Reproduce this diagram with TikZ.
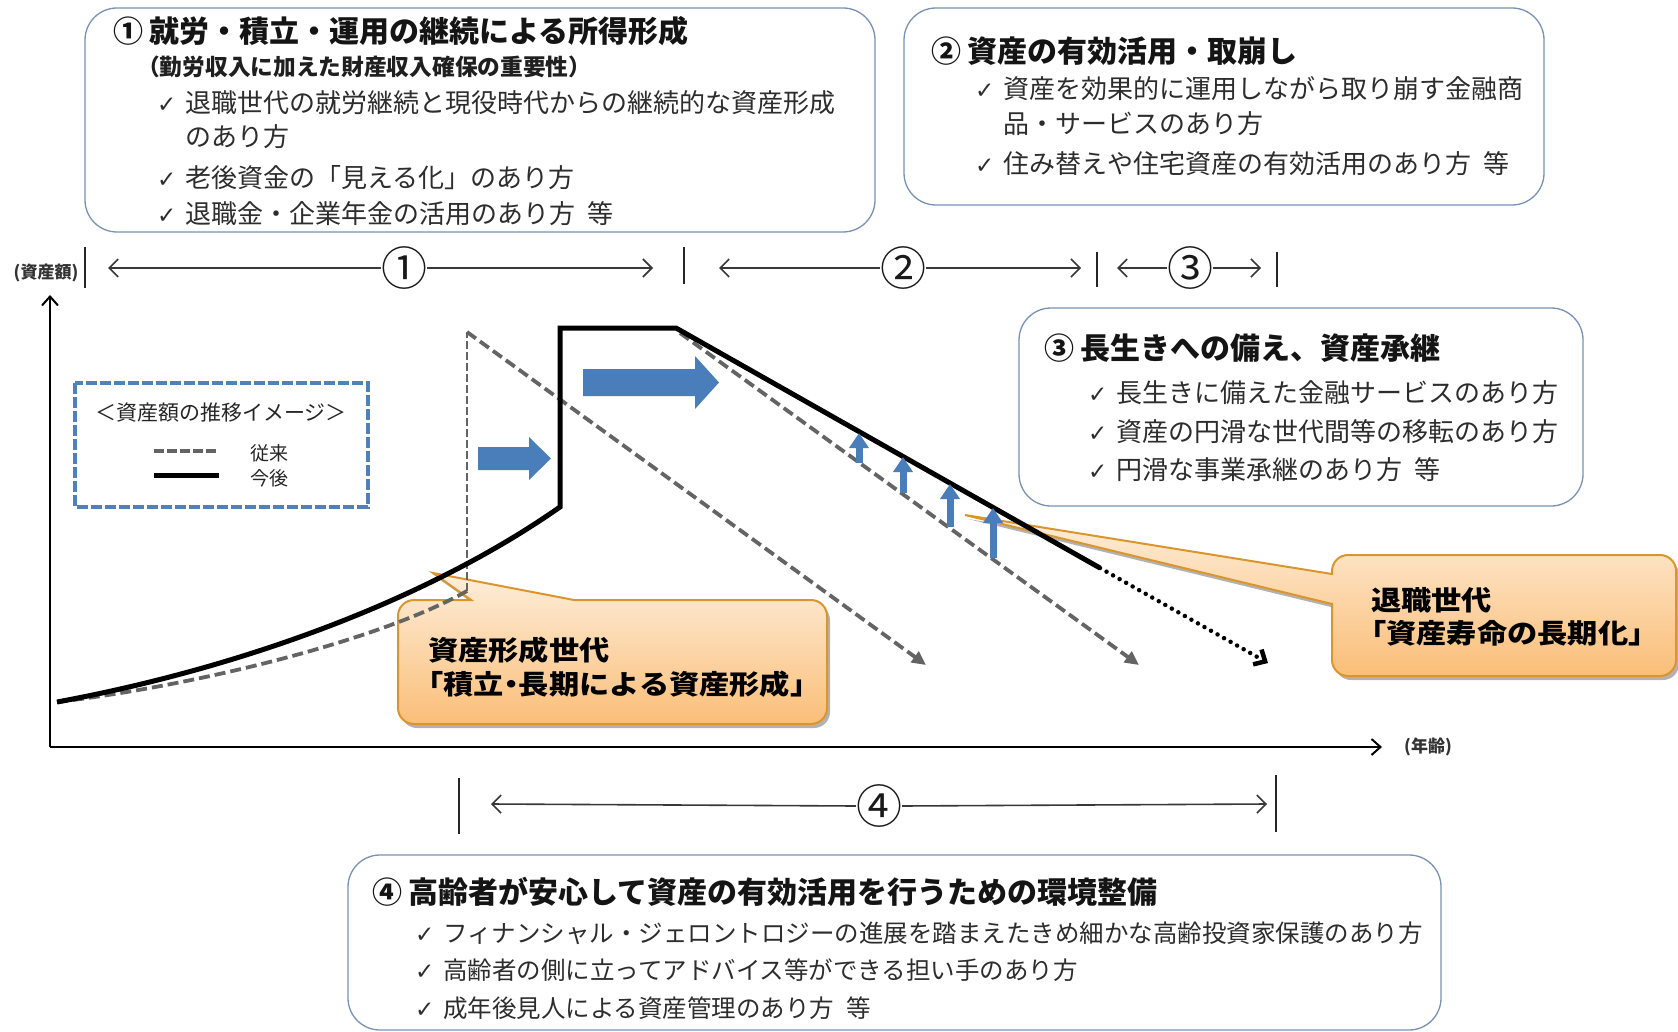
\documentclass[tikz,border=0pt]{standalone}
\usepackage{fontspec}
\newfontfamily\jp{Noto Sans CJK JP}
\newfontfamily\jpc[FakeStretch=1.12]{Noto Sans CJK JP}
\newfontfamily\dvs{DejaVu Sans}
\usetikzlibrary{arrows.meta,shadows}
\definecolor{boxc}{RGB}{120,145,180}
\definecolor{txt}{RGB}{45,45,45}
\definecolor{legc}{RGB}{79,129,189}
\definecolor{blu}{RGB}{74,126,187}
\definecolor{gry}{RGB}{100,100,100}
\definecolor{calb}{RGB}{218,150,45}
\definecolor{calt}{RGB}{254,238,218}
\definecolor{calbot}{RGB}{250,190,120}
\newcommand{\ck}{\makebox[28pt][l]{\dvs\fontsize{23}{23}\selectfont ✓}}
\newcommand{\nd}{\makebox[15pt]{・}}
\begin{document}
\begin{tikzpicture}[x=1pt,y=-1pt,font=\jp,
  panel/.style={draw=boxc, line width=1.3pt, rounded corners=32pt},
  ttl/.style={anchor=west, inner sep=0pt, text=black!92, font=\jp\bfseries\fontsize{30}{34}\selectfont},
  sub/.style={anchor=west, inner sep=0pt, text=black!88, font=\jp\bfseries\fontsize{22.7}{26}\selectfont},
  itm/.style={anchor=west, inner sep=0pt, text=txt, font=\jp\fontsize{26}{30}\selectfont},
  itms/.style={anchor=west, inner sep=0pt, text=txt, font=\jp\fontsize{24.5}{30}\selectfont},
  cnum/.style={inner sep=0pt, font=\jp\fontsize{46}{46}\selectfont, text=black!90},
  tline/.style={draw=black!78, line width=1.6pt, -{Straight Barb[length=9pt,width=18pt]}},
  tick/.style={draw=black!85, line width=1.6pt},
  axis/.style={draw=black, line width=2pt, -{Straight Barb[length=9pt,width=16pt]}},
  axlab/.style={inner sep=0pt, font=\jp\bfseries\fontsize{17}{17}\selectfont, text=black!80},
  newl/.style={draw=black, line width=5pt, line join=miter},
  oldl/.style={draw=gry, line width=3.8pt, dash pattern=on 11pt off 5pt},
  oldv/.style={draw=gry, line width=2pt, dash pattern=on 8pt off 3pt},
  oldarr/.style={oldl, -{Triangle[length=14pt,width=13pt]}},
  dotarr/.style={draw=black, line width=4.5pt, line cap=round, dash pattern=on 0pt off 7.5pt, -{Straight Barb[length=9pt,width=17pt,line cap=butt]}},
  bup/.style={draw=blu, line width=7pt, -{Triangle[length=15pt,width=19pt]}},
  legbox/.style={draw=legc, line width=3.5pt, dash pattern=on 11pt off 3pt},
  legt/.style={inner sep=0pt, font=\jp\fontsize{21}{24}\selectfont, text=black!85},
  legl/.style={anchor=west, inner sep=0pt, font=\jp\fontsize{19}{22}\selectfont, text=black!85},
  call/.style={draw=calb, line width=2pt, top color=calt, bottom color=calbot,
    drop shadow={shadow xshift=3pt, shadow yshift=-4pt, opacity=0.3, fill=black}},
  calltxt/.style={anchor=west, inner sep=0pt, font=\jpc\bfseries\fontsize{27}{30}\selectfont, text=black}
]
\useasboundingbox (0,0) rectangle (1678,1032);
\fill[white] (0,0) rectangle (1678,1032);

% ---------- panels ----------
\draw[panel] (85,8) rectangle (875,232);
\node[ttl] (t1) at (113,31) {①\hspace{6pt}就労・積立・運用の継続による所得形成};
\node[sub] (s1) at (137,67) {（勤労収入に加えた財産収入確保の重要性）};
\node[itm] (i11) at (157,103) {\ck 退職世代の就労継続と現役時代からの継続的な資産形成};
\node[itm] (i12) at (185,137) {のあり方};
\node[itm] (i13) at (157,178) {\ck 老後資金の「見える化」のあり方};
\node[itm] (i14) at (157,214) {\ck 退職金・企業年金の活用のあり方\hspace{12pt}等};

\draw[panel] (904,8) rectangle (1544,205);
\node[ttl] (t2) at (931,51) {②\hspace{6pt}資産の有効活用・取崩し};
\node[itm] (i21) at (975,89) {\ck 資産を効果的に運用しながら取り崩す金融商};
\node[itm] (i22) at (1003,124) {品・サービスのあり方};
\node[itm] (i23) at (975,164) {\ck 住み替えや住宅資産の有効活用のあり方\hspace{12pt}等};

\draw[panel] (1019,308) rectangle (1583,506);
\node[ttl] (t3) at (1044,348) {③\hspace{6pt}長生きへの備え、資産承継};
\node[itm] (i31) at (1088,393) {\ck 長生きに備えた金融サービスのあり方};
\node[itm] (i32) at (1088,432) {\ck 資産の円滑な世代間等の移転のあり方};
\node[itm] (i33) at (1088,470) {\ck 円滑な事業承継のあり方\hspace{12pt}等};

\draw[panel] (348,855) rectangle (1441,1030);
\node[ttl] (t4) at (372,892) {④\hspace{6pt}高齢者が安心して資産の有効活用を行うための環境整備};
\node[itms] (i41) at (415,933) {\ck フィナンシャル・ジェロントロジーの進展を踏まえたきめ細かな高齢投資家保護のあり方};
\node[itms] (i42) at (415,970) {\ck 高齢者の側に立ってアドバイス等ができる担い手のあり方};
\node[itms] (i43) at (415,1008) {\ck 成年後見人による資産管理のあり方\hspace{12pt}等};

% ---------- timelines ----------
\node[cnum] (n1) at (404,268) {①};
\coordinate (a1l) at (108,268); \coordinate (a1r) at (653,268);
\draw[tline] (n1.west) -- (a1l); \draw[tline] (n1.east) -- (a1r);
\node[cnum] (n2) at (903,268) {②};
\coordinate (a2l) at (719,268); \coordinate (a2r) at (1081,268);
\draw[tline] (n2.west) -- (a2l); \draw[tline] (n2.east) -- (a2r);
\node[cnum] (n3) at (1190,268) {③};
\coordinate (a3l) at (1117,268); \coordinate (a3r) at (1261,268);
\draw[tline] (n3.west) -- (a3l); \draw[tline] (n3.east) -- (a3r);
\draw[tick] (85,247) -- (85,288);
\draw[tick] (684,247) -- (684,284);
\draw[tick] (1097,252) -- (1097,287);
\draw[tick] (1277,252) -- (1277,287);

\node[cnum] (n4) at (879,806) {④};
\coordinate (a4l) at (491,804); \coordinate (a4r) at (1267,804);
\draw[tline] (n4.west) -- (a4l); \draw[tline] (n4.east) -- (a4r);
\draw[tick] (459,778) -- (459,834);
\draw[tick] (1276,775) -- (1276,832);

% ---------- axes ----------
\coordinate (O) at (50,747);
\coordinate (ytop) at (50,295);
\coordinate (xend) at (1382,747);
\draw[axis] (O) -- (ytop);
\draw[axis] (O) -- (xend);
\node[axlab] (ylab) at (46,273) {(資産額)};
\node[axlab] (xlab) at (1428,747) {(年齢)};

% ---------- legend ----------
\draw[legbox] (75,383) rectangle (368,507);
\node[legt] (lt) at (221,413) {＜資産額の推移イメージ＞};
\draw[oldl, dash pattern=on 10pt off 3pt] (154,451) -- (219,451);
\draw[newl] (154,475) -- (219,475);
\node[legl] (lg1) at (250,453) {従来};
\node[legl] (lg2) at (250,478) {今後};

% ---------- callouts ----------
\path[call] (414,600) -- (471,600) -- (433,573) -- (574,600) -- (811,600)
  arc[start angle=-90, end angle=0, radius=16] -- (827,708)
  arc[start angle=0, end angle=90, radius=16] -- (414,724)
  arc[start angle=90, end angle=180, radius=16] -- (398,616)
  arc[start angle=180, end angle=270, radius=16] -- cycle;
\node[calltxt] (c1a) at (428,650) {資産形成世代};
\node[calltxt] (c1b) at (413,684) {「積立\nd 長期による資産形成」};

\path[call] (1348,555) -- (1660,555)
  arc[start angle=-90, end angle=0, radius=16] -- (1676,660)
  arc[start angle=0, end angle=90, radius=16] -- (1348,676)
  arc[start angle=90, end angle=180, radius=16] -- (1332,604) -- (965,515) -- (1332,574) -- (1332,571)
  arc[start angle=180, end angle=270, radius=16] -- cycle;
\node[calltxt] (c2a) at (1371,600) {退職世代};
\node[calltxt] (c2b) at (1356,633) {「資産寿命の長期化」};

% ---------- curves ----------
\draw[oldl] (57,702) .. controls (200,685) and (380,640) .. (467,591);
\draw[oldv] (467,591) -- (467,332);
\draw[oldarr] (467,332) -- (926,665);
\draw[oldarr] (680,333) -- (1139,665);
\draw[newl] (57,702) .. controls (230,670) and (420,605) .. (560,507) -- (560,328) -- (676,328) -- (1100,568);
\draw[dotarr] (1100,568) -- (1268,663);

% blue arrows
\fill[blu] (478,447) -- (529,447) -- (529,437) -- (551,458.5) -- (529,480) -- (529,470) -- (478,470) -- cycle;
\fill[blu] (583,369) -- (695,369) -- (695,356) -- (719,382.5) -- (695,409) -- (695,396) -- (583,396) -- cycle;
\draw[bup] (859,463) -- (859,433);
\draw[bup] (903,493) -- (903,457);
\draw[bup] (950,527) -- (950,484);
\draw[bup] (993,558) -- (993,508);
\end{tikzpicture}
\end{document}
